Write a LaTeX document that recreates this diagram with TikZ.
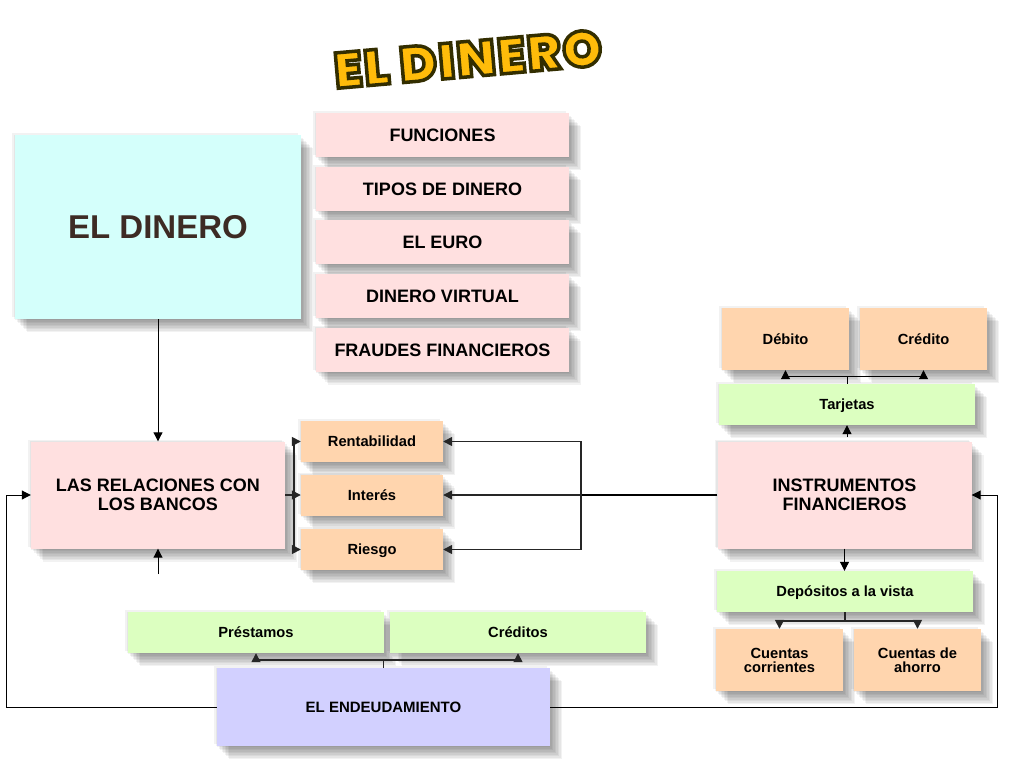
\documentclass[tikz,border=0pt]{standalone}
\usepackage{fontspec}
\setmainfont{Liberation Sans}
\newfontfamily\titulofont[BoldFont={Poppins Black},LetterSpace=4]{Poppins}
\usetikzlibrary{arrows.meta,shadows}
\definecolor{rosa}{HTML}{FFE0E0}
\definecolor{celeste}{HTML}{D4FFFB}
\definecolor{verde}{HTML}{DCFFC0}
\definecolor{naranja}{HTML}{FFD5AE}
\definecolor{lila}{HTML}{D2D0FF}
\definecolor{marron}{HTML}{3D2B24}
\definecolor{oro}{HTML}{FFBC0A}
\tikzset{
  capa/.style={general shadow={shadow xshift=4pt+#1pt, shadow yshift=-5pt-#1pt, fill=black, fill opacity=.05, draw=none}},
  caja/.style={fill=#1, inner sep=0pt, align=center,
    capa=-7, capa=-5.5, capa=-4, capa=-2.5, capa=-1, capa=.5, capa=2, capa=3.5, capa=5, capa=6.5, capa=8},
  tema/.style={caja=rosa, minimum width=253pt, minimum height=44pt, text height=13pt, text depth=0pt, font=\bfseries\fontsize{18}{19}\selectfont},
  bloque/.style={caja=rosa, minimum width=254pt, minimum height=107pt, font=\bfseries\fontsize{18}{18.5}\selectfont},
  franja/.style={caja=verde, minimum width=256pt, minimum height=41pt, text height=10.6pt, text depth=0pt, font=\bfseries\fontsize{14.7}{14}\selectfont},
  hoja/.style={caja=naranja, minimum width=142pt, minimum height=41pt, text height=10.6pt, text depth=0pt, font=\bfseries\fontsize{14.7}{14}\selectfont},
  tarjeta/.style={caja=naranja, minimum width=127pt, minimum height=62pt, font=\bfseries\fontsize{14.7}{14}\selectfont},
  linea/.style={line width=1pt, black},
  flecha/.style={linea, -{Triangle[length=9pt,width=9pt]}},
  rama/.style={flecha, line width=1.5pt, black!85}
}
\begin{document}
\begin{tikzpicture}[x=1pt,y=-1pt]
  \useasboundingbox[fill=white] (0,0) rectangle (1024,768);
  % Titulo
  \node at (468,59) (titulo) [rotate=5, text=oro, font=\titulofont\bfseries\fontsize{50}{52}\selectfont]
    {\special{pdf:code q 2 Tr 3.5 w 0.2 0.18 0 RG}EL DINERO\special{pdf:code Q}};
  % Columna de temas
  \node at (158,227) (dinero) [caja=celeste, minimum width=286pt, minimum height=184pt, text=marron, font=\bfseries\fontsize{33}{34}\selectfont] {EL DINERO};
  \node at (442.5,135) (funciones) [tema] {FUNCIONES};
  \node at (442.5,189) (tipos) [tema] {TIPOS DE DINERO};
  \node at (442.5,242) (euro) [tema] {EL EURO};
  \node at (442.5,296) (virtual) [tema] {DINERO VIRTUAL};
  \node at (442.5,349.5) (fraudes) [tema] {FRAUDES FINANCIEROS};
  % Bancos
  \node at (158,495) (relaciones) [bloque] {LAS RELACIONES CON\\LOS BANCOS};
  \node at (372,441.5) (rentabilidad) [hoja] {Rentabilidad};
  \node at (372,495) (interes) [hoja] {Interés};
  \node at (372,549.5) (riesgo) [hoja] {Riesgo};
  % Instrumentos
  \node at (844.5,495) (instrumentos) [bloque] {INSTRUMENTOS\\ FINANCIEROS};
  \node at (847,404.5) (tarjetas) [franja] {Tarjetas};
  \node at (785.5,339) (debito) [tarjeta] {Débito};
  \node at (923.5,339) (credito) [tarjeta] {Crédito};
  \node at (845,591.5) (depositos) [franja] {Depósitos a la vista};
  \node at (779.5,660) (corrientes) [tarjeta] {Cuentas\\corrientes};
  \node at (917.5,660) (ahorro) [tarjeta] {Cuentas de\\ahorro};
  % Endeudamiento
  \node at (256,632.5) (prestamos) [franja] {Préstamos};
  \node at (518,632.5) (creditos) [franja] {Créditos};
  \node at (383.5,707) (endeudamiento) [caja=lila, minimum width=333pt, minimum height=78pt, font=\bfseries\fontsize{15}{16}\selectfont] {EL ENDEUDAMIENTO};
  % Puntos de paso
  \coordinate (ramal) at (294,495);
  \coordinate (cruce) at (581,495);
  \coordinate (suelto) at (158,574);
  \coordinate (corto) at (847,437);
  % Conexiones
  \draw[flecha] (dinero) -- (relaciones);
  \draw[rama] (relaciones) -- (interes);
  \draw[rama] (ramal) |- (rentabilidad);
  \draw[rama] (ramal) |- (riesgo);
  \draw[flecha] (suelto) -- (relaciones);
  \draw[linea, line width=2pt] (instrumentos) -- (cruce);
  \draw[rama] (cruce) -- (interes);
  \draw[rama] (cruce) |- (rentabilidad);
  \draw[rama] (cruce) |- (riesgo);
  \draw[flecha] (corto) -- (tarjetas);
  \draw[flecha] (tarjetas.north) -- ++(0,-7) -| (debito.south);
  \draw[flecha] (tarjetas.north) -- ++(0,-7) -| (credito.south);
  \draw[flecha] (instrumentos.south) -- (instrumentos.south |- depositos.north);
  \draw[rama] (depositos.south) -- ++(0,9) -| (corrientes.north);
  \draw[rama] (depositos.south) -- ++(0,9) -| (ahorro.north);
  \draw[rama] (endeudamiento.north) -- ++(0,-8) -| (prestamos.south);
  \draw[rama] (endeudamiento.north) -- ++(0,-8) -| (creditos.south);
  \draw[flecha] (endeudamiento.west) -- ++(-210,0) |- (relaciones.west);
  \draw[flecha] (endeudamiento.east) -- ++(447,0) |- (instrumentos.east);
\end{tikzpicture}
\end{document}
